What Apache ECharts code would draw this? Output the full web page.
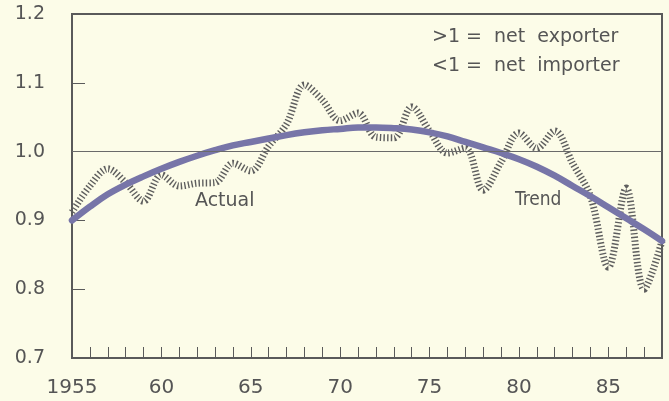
<!DOCTYPE html>
<html>
<head>
<meta charset="utf-8">
<script src="https://cdn.jsdelivr.net/npm/echarts@6/dist/echarts.min.js"></script>
<style>
html,body{margin:0;padding:0;background:#fcfce8;}
#c{width:669px;height:401px;}
</style>
</head>
<body>
<div id="c"></div>
<script>
const years = [1955,1956,1957,1958,1959,1960,1961,1962,1963,1964,1965,1966,1967,1968,1969,1970,1971,1972,1973,1974,1975,1976,1977,1978,1979,1980,1981,1982,1983,1984,1985,1986,1987,1988];
const actual = [0.912,0.950,0.975,0.955,0.928,0.966,0.950,0.954,0.955,0.983,0.972,1.008,1.040,1.097,1.075,1.045,1.056,1.021,1.020,1.065,1.030,0.998,1.005,0.944,0.985,1.027,1.005,1.030,0.983,0.935,0.832,0.947,0.800,0.870];
const trend = [0.900,0.920,0.938,0.952,0.964,0.975,0.985,0.994,1.002,1.009,1.014,1.019,1.024,1.028,1.031,1.033,1.035,1.035,1.034,1.032,1.028,1.022,1.014,1.006,0.998,0.989,0.978,0.965,0.950,0.935,0.919,0.903,0.887,0.870];
const yTicks = [0.7,0.8,0.9,1.0,1.1,1.2];
const xLabelYears = [1955,1960,1965,1970,1975,1980,1985];
const refLevel = 1.0;

const txt = '#555555';
const font = '"DejaVu Sans", sans-serif';
const chart = echarts.init(document.getElementById('c'));
chart.setOption({
  backgroundColor: '#fcfce8',
  animation: false,
  grid: {left:72, right:7, top:14, bottom:43, show:true, borderColor:'#5a5a5a', borderWidth:2, backgroundColor:'transparent'},
  xAxis: {
    type:'value', min:1955, max:1988, interval:1,
    axisLine:{show:true, lineStyle:{color:'#5a5a5a', width:2}},
    axisTick:{show:true, inside:true, length:11, lineStyle:{color:'#5a5a5a', width:1}},
    splitLine:{show:false},
    axisLabel:{
      margin:20, color:txt, fontFamily:font, fontSize:20,
      formatter:function(v){ if(xLabelYears.indexOf(v)<0) return ''; return v===1955?'1955':String(v).slice(2); }
    }
  },
  yAxis: {
    type:'value', min:0.7, max:1.2, interval:0.1,
    axisLine:{show:true, lineStyle:{color:'#5a5a5a', width:2}},
    axisTick:{show:true, inside:true, length:13, lineStyle:{color:'#5a5a5a', width:1}},
    splitLine:{show:false},
    axisLabel:{margin:27, color:txt, fontFamily:font, fontSize:19, formatter:function(v){return v.toFixed(1);}}
  },
  series: [
    {
      type:'line', name:'Actual', data: years.map((y,i)=>[y, actual[i]]),
      smooth:0.35, showSymbol:false, symbol:'none',
      lineStyle:{color:'#5e5e5e', width:7, type:[1.4,2.2], cap:'butt'},
      markLine:{silent:true, symbol:'none', label:{show:false},
        lineStyle:{color:'#6a6a6a', width:1, type:'solid'}, data:[{yAxis:refLevel}]},
      z:2
    },
    {
      type:'line', name:'Trend', data: years.map((y,i)=>[y, trend[i]]),
      smooth:0.4, showSymbol:false, symbol:'none',
      lineStyle:{color:'#7775a8', width:6.5, cap:'round'},
      z:3
    }
  ],
  graphic: [
    {type:'text', x:432, y:37, style:{text:'>1 =  net  exporter', fill:txt, font:'19px "DejaVu Sans", sans-serif', verticalAlign:'middle'}},
    {type:'text', x:432, y:66, style:{text:'<1 =  net  importer', fill:txt, font:'19px "DejaVu Sans", sans-serif', verticalAlign:'middle'}},
    {type:'text', x:195, y:201, style:{text:'Actual', fill:txt, font:'19px "DejaVu Sans", sans-serif', verticalAlign:'middle'}},
    {type:'text', x:515, y:200, style:{text:'Trend', fill:txt, font:'19px "Liberation Sans Narrow", "DejaVu Sans Condensed", sans-serif', verticalAlign:'middle'}}
  ]
});
</script>
</body>
</html>
